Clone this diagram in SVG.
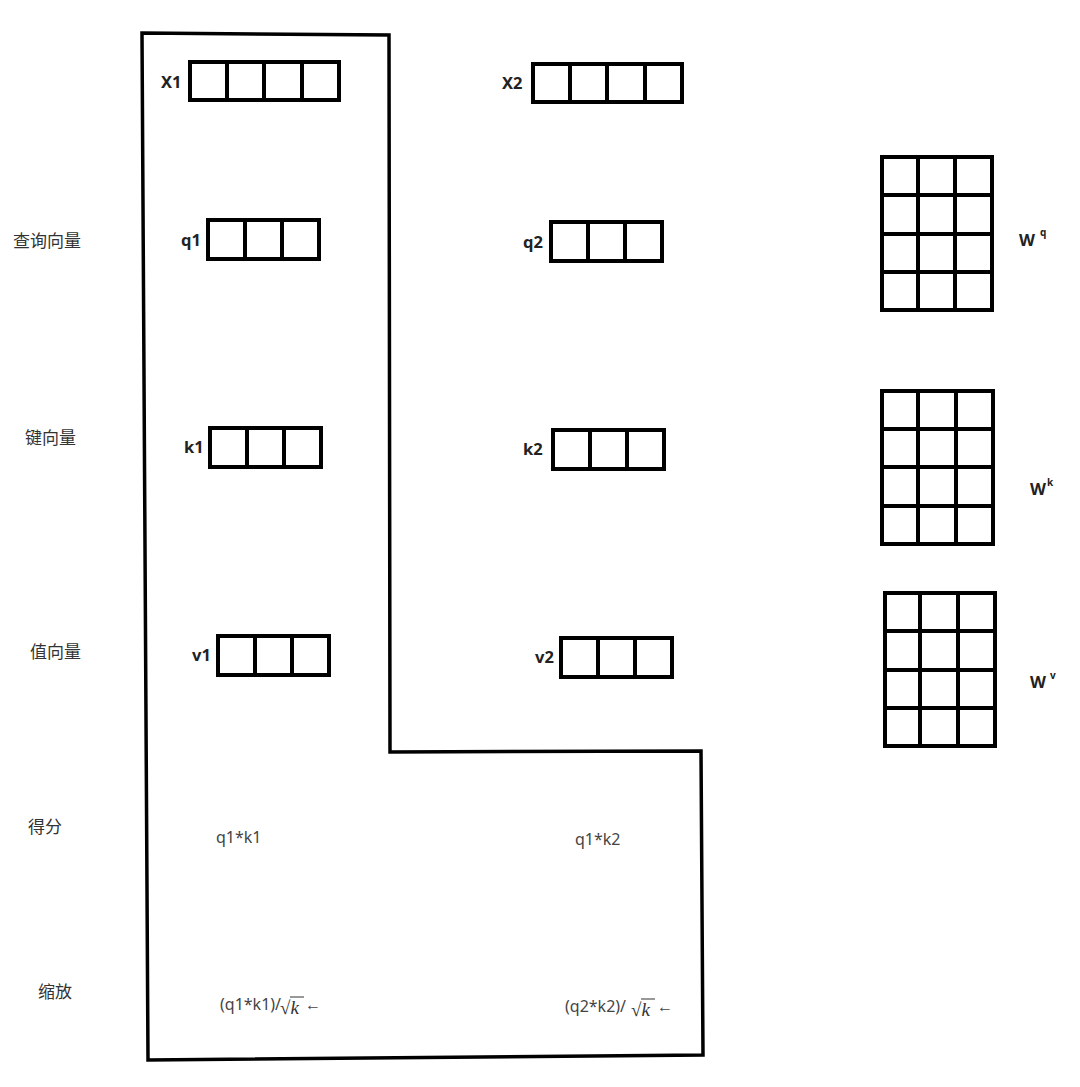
<svg xmlns="http://www.w3.org/2000/svg" width="1080" height="1087" viewBox="0 0 1080 1087">
<style>
.b{fill:#fff;stroke:#000;stroke-width:4}
.g{stroke:#000;stroke-width:4;fill:none}
.o{stroke:#000;stroke-width:3.5;fill:none}
.lb{font-family:"Noto Sans","Open Sans","Liberation Sans",sans-serif;font-weight:bold;font-size:16.5px;fill:#222}
.cn{font-family:"Noto Sans CJK SC",sans-serif;font-size:17px;fill:#333}
.tx{font-family:"Noto Sans","Open Sans","Liberation Sans",sans-serif;font-size:16px;fill:#444}
.sq{font-family:"Liberation Serif",serif;font-size:19px;fill:#333}
.sup{font-family:"Noto Sans","Liberation Sans",sans-serif;font-weight:bold;font-size:10px;fill:#222}
</style>
<rect width="1080" height="1087" fill="#fff"/>
<g id="outline">
<path class="o" d="M142,33 L389,35 L390,752 L701,751 L703,1055 L148,1060 Z"/>
</g>
<g id="labels-left">
<text class="cn" x="13" y="247">查询向量</text>
<text class="cn" x="25" y="444">键向量</text>
<text class="cn" x="30" y="658">值向量</text>
<text class="cn" x="28" y="833">得分</text>
<text class="cn" x="38" y="998">缩放</text>
</g>
<g id="x1">
<text class="lb" x="161" y="88">X1</text>
<rect class="b" x="190" y="62" width="149" height="38"/>
<path class="g" d="M227,62V100M264,62V100M302,62V100"/>
</g>
<g id="x2">
<text class="lb" x="502" y="89">X2</text>
<rect class="b" x="533" y="64" width="149" height="38"/>
<path class="g" d="M570,64V102M607,64V102M645,64V102"/>
</g>
<g id="q1">
<text class="lb" x="181" y="246">q1</text>
<rect class="b" x="208" y="220" width="111" height="39"/>
<path class="g" d="M245,220V259M282,220V259"/>
</g>
<g id="q2">
<text class="lb" x="523" y="248">q2</text>
<rect class="b" x="551" y="222" width="111" height="39"/>
<path class="g" d="M588,222V261M625,222V261"/>
</g>
<g id="k1">
<text class="lb" x="184" y="453">k1</text>
<rect class="b" x="210" y="428" width="111" height="39"/>
<path class="g" d="M247,428V467M284,428V467"/>
</g>
<g id="k2">
<text class="lb" x="523" y="455">k2</text>
<rect class="b" x="553" y="430" width="111" height="39"/>
<path class="g" d="M590,430V469M627,430V469"/>
</g>
<g id="v1">
<text class="lb" x="192" y="661">v1</text>
<rect class="b" x="218" y="636" width="111" height="39"/>
<path class="g" d="M255,636V675M292,636V675"/>
</g>
<g id="v2">
<text class="lb" x="535" y="663">v2</text>
<rect class="b" x="561" y="638" width="111" height="39"/>
<path class="g" d="M598,638V677M635,638V677"/>
</g>
<g id="wq">
<rect class="b" x="882" y="157" width="110" height="153"/>
<path class="g" d="M918,157V310M955,157V310M882,195H992M882,234H992M882,272H992"/>
<text class="lb" x="1019" y="246">W</text><text class="sup" x="1040" y="236">q</text>
</g>
<g id="wk">
<rect class="b" x="882" y="391" width="111" height="153"/>
<path class="g" d="M918,391V544M956,391V544M882,429H993M882,467H993M882,506H993"/>
<text class="lb" x="1030" y="495">W</text><text class="sup" x="1047" y="486">k</text>
</g>
<g id="wv">
<rect class="b" x="885" y="593" width="110" height="153"/>
<path class="g" d="M920,593V746M958,593V746M885,631H995M885,670H995M885,708H995"/>
<text class="lb" x="1030" y="688">W</text><text class="sup" x="1050" y="679">v</text>
</g>
<g id="score">
<text class="tx" x="216" y="843">q1*k1</text>
<text class="tx" x="575" y="845">q1*k2</text>
</g>
<g id="scale">
<text class="tx" x="220" y="1010">(q1*k1)/</text>
<text class="sq" x="280" y="1014">√<tspan font-style="italic">k</tspan></text>
<line x1="290" y1="997" x2="304" y2="997" stroke="#333" stroke-width="1"/>
<text class="tx" x="305" y="1010" font-size="10" fill="#999">←</text>
<text class="tx" x="565" y="1012">(q2*k2)/</text>
<text class="sq" x="631" y="1016">√<tspan font-style="italic">k</tspan></text>
<line x1="641" y1="999" x2="655" y2="999" stroke="#333" stroke-width="1"/>
<text class="tx" x="657" y="1012" font-size="10" fill="#999">←</text>
</g>
</svg>
